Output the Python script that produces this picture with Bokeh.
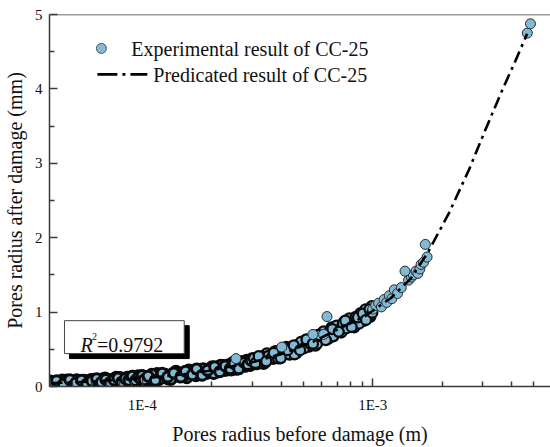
import math

from bokeh.embed import file_html
from bokeh.models import (BoxAnnotation, ColumnDataSource, CustomJSTickFormatter,
                          FixedTicker, Label, Span)
from bokeh.plotting import figure
from bokeh.resources import INLINE

# ---------------------------------------------------------------------------
# Measured pore radii: before damage (m) against after damage (mm), CC-25
# ---------------------------------------------------------------------------
fine_before = [4.0e-5, 4.1e-5, 4.2e-5, 4.3e-5, 4.5e-5, 4.6e-5, 4.8e-5, 4.9e-5, 5.0e-5, 5.2e-5,
               5.3e-5, 5.5e-5, 5.6e-5, 5.8e-5, 5.9e-5, 6.1e-5, 6.2e-5, 6.4e-5, 6.6e-5, 6.7e-5,
               6.9e-5, 7.1e-5, 7.3e-5, 7.4e-5, 7.6e-5, 7.8e-5, 8.0e-5, 8.2e-5, 8.4e-5, 8.6e-5,
               8.8e-5, 9.0e-5, 9.2e-5, 9.4e-5, 9.6e-5, 9.8e-5,
               4.4e-5, 4.7e-5, 5.1e-5, 5.4e-5, 5.7e-5, 6.0e-5, 6.3e-5, 6.5e-5, 6.8e-5, 7.0e-5,
               7.2e-5, 7.5e-5, 7.7e-5, 7.9e-5, 8.1e-5, 8.3e-5, 8.5e-5, 8.7e-5, 8.9e-5, 9.1e-5,
               9.3e-5, 9.5e-5, 9.7e-5, 9.9e-5,
               4.05e-5, 4.25e-5, 4.55e-5, 4.85e-5, 5.15e-5, 5.45e-5, 5.75e-5, 6.05e-5, 6.35e-5, 6.65e-5,
               6.95e-5, 7.25e-5, 7.55e-5, 7.85e-5, 8.15e-5, 8.45e-5, 8.75e-5, 9.05e-5, 9.35e-5, 9.65e-5,
               9.85e-5]
fine_after = [0.073, 0.030, 0.055, 0.026, 0.089, 0.050, 0.027, 0.073, 0.044, 0.091,
              0.027, 0.074, 0.085, 0.043, 0.069, 0.031, 0.097, 0.059, 0.091, 0.047,
              0.115, 0.072, 0.089, 0.050, 0.107, 0.069, 0.121, 0.089, 0.071, 0.123,
              0.065, 0.107, 0.119, 0.077, 0.144, 0.096,
              0.033, 0.086, 0.025, 0.078, 0.057, 0.095, 0.043, 0.080, 0.108, 0.056,
              0.093, 0.051, 0.123, 0.075, 0.112, 0.055, 0.097, 0.124, 0.076, 0.138,
              0.085, 0.123, 0.075, 0.142,
              0.049, 0.076, 0.029, 0.092, 0.046, 0.084, 0.032, 0.075, 0.104, 0.057,
              0.095, 0.053, 0.087, 0.115, 0.058, 0.106, 0.085, 0.138, 0.081, 0.129,
              0.101]

mid_before = [1.00e-4, 1.04e-4, 1.08e-4, 1.12e-4, 1.16e-4, 1.20e-4, 1.25e-4, 1.30e-4, 1.35e-4, 1.40e-4,
              1.45e-4, 1.50e-4, 1.56e-4, 1.62e-4, 1.68e-4, 1.74e-4, 1.80e-4, 1.87e-4, 1.94e-4, 2.01e-4,
              2.08e-4, 2.15e-4, 2.23e-4, 2.31e-4, 2.39e-4, 2.47e-4, 2.56e-4, 2.65e-4, 2.74e-4, 2.84e-4,
              2.94e-4,
              1.02e-4, 1.10e-4, 1.18e-4, 1.27e-4, 1.33e-4, 1.42e-4, 1.52e-4, 1.59e-4, 1.71e-4, 1.77e-4,
              1.84e-4, 1.90e-4, 1.98e-4, 2.04e-4, 2.12e-4, 2.19e-4, 2.27e-4, 2.35e-4, 2.43e-4, 2.52e-4,
              2.60e-4, 2.70e-4, 2.79e-4, 2.89e-4, 2.99e-4,
              1.06e-4, 1.14e-4, 1.22e-4, 1.29e-4, 1.37e-4, 1.47e-4, 1.54e-4, 1.65e-4, 1.72e-4, 1.82e-4,
              1.92e-4, 2.06e-4, 2.17e-4, 2.29e-4, 2.41e-4, 2.50e-4, 2.62e-4, 2.77e-4, 2.87e-4, 2.97e-4]
mid_after = [0.148, 0.082, 0.132, 0.076, 0.175, 0.120, 0.165, 0.100, 0.166, 0.206,
             0.132, 0.172, 0.118, 0.210, 0.166, 0.233, 0.159, 0.227, 0.190, 0.267,
             0.185, 0.247, 0.281, 0.220, 0.263, 0.322, 0.231, 0.306, 0.286, 0.352,
             0.283,
             0.090, 0.164, 0.092, 0.157, 0.094, 0.183, 0.149, 0.222, 0.145, 0.201,
             0.239, 0.175, 0.239, 0.175, 0.244, 0.287, 0.220, 0.289, 0.222, 0.292,
             0.271, 0.337, 0.271, 0.322, 0.373,
             0.139, 0.083, 0.177, 0.129, 0.183, 0.129, 0.206, 0.158, 0.236, 0.152,
             0.217, 0.267, 0.199, 0.277, 0.240, 0.310, 0.238, 0.324, 0.295, 0.351]

coarse_before = [3.05e-4, 3.15e-4, 3.25e-4, 3.36e-4, 3.47e-4, 3.58e-4, 3.70e-4, 3.82e-4, 3.95e-4, 4.08e-4,
                 4.22e-4, 4.36e-4, 4.50e-4, 4.65e-4, 4.80e-4, 4.96e-4, 5.12e-4, 5.29e-4, 5.46e-4, 5.64e-4,
                 5.83e-4, 6.02e-4, 6.22e-4, 6.42e-4, 6.63e-4, 6.85e-4, 7.07e-4, 7.30e-4, 7.54e-4, 7.79e-4,
                 8.04e-4, 8.30e-4, 8.57e-4, 8.85e-4, 9.14e-4, 9.44e-4, 9.75e-4,
                 3.10e-4, 3.30e-4, 3.41e-4, 3.53e-4, 3.64e-4, 3.76e-4, 3.88e-4, 4.02e-4, 4.15e-4, 4.29e-4,
                 4.43e-4, 4.58e-4, 4.72e-4, 4.88e-4, 5.04e-4, 5.20e-4, 5.37e-4, 5.55e-4, 5.73e-4, 5.92e-4,
                 6.12e-4, 6.32e-4, 6.52e-4, 6.74e-4, 6.96e-4, 7.18e-4, 7.42e-4, 7.66e-4, 7.91e-4, 8.17e-4,
                 8.43e-4, 8.71e-4, 9.00e-4, 9.29e-4, 9.60e-4, 9.90e-4,
                 3.20e-4, 3.45e-4, 3.72e-4, 3.99e-4, 4.26e-4, 4.54e-4, 4.84e-4, 5.16e-4, 5.50e-4, 5.86e-4,
                 6.26e-4, 6.68e-4, 7.12e-4, 7.60e-4, 8.10e-4, 8.62e-4, 9.05e-4, 9.35e-4, 9.68e-4, 9.95e-4]
coarse_after = [0.380, 0.301, 0.372, 0.304, 0.446, 0.388, 0.371, 0.474, 0.379, 0.473,
                0.533, 0.428, 0.505, 0.446, 0.573, 0.521, 0.628, 0.537, 0.626, 0.550,
                0.696, 0.646, 0.717, 0.643, 0.794, 0.711, 0.783, 0.726, 0.875, 0.808,
                0.896, 0.795, 0.920, 0.985, 0.883, 0.985, 0.935,
                0.316, 0.403, 0.320, 0.412, 0.384, 0.472, 0.380, 0.457, 0.505, 0.436,
                0.521, 0.433, 0.524, 0.601, 0.515, 0.612, 0.571, 0.665, 0.575, 0.676,
                0.742, 0.668, 0.748, 0.675, 0.817, 0.764, 0.848, 0.780, 0.917, 0.826,
                0.935, 0.845, 0.946, 1.036, 0.940, 1.080,
                0.407, 0.339, 0.453, 0.382, 0.488, 0.554, 0.487, 0.633, 0.575, 0.690,
                0.623, 0.772, 0.735, 0.885, 0.800, 0.929, 0.980, 0.895, 1.037, 0.992]

large_before = [1.00e-3, 1.03e-3, 1.06e-3, 1.09e-3, 1.12e-3, 1.15e-3, 1.18e-3, 1.21e-3, 1.24e-3, 1.28e-3,
                1.33e-3, 1.43e-3, 1.47e-3, 1.50e-3, 1.54e-3, 1.57e-3, 1.60e-3, 1.62e-3, 1.66e-3, 1.72e-3]
large_after = [1.04, 1.09, 1.12, 1.07, 1.17, 1.13, 1.22, 1.18, 1.30, 1.25,
               1.33, 1.43, 1.47, 1.50, 1.55, 1.52, 1.58, 1.64, 1.67, 1.74]

# isolated points away from the main band
isolated_before = [2.55e-4, 4.03e-4, 5.50e-4, 6.12e-4, 6.33e-4, 1.38e-3, 1.69e-3, 4.68e-3, 4.83e-3]
isolated_after = [0.375, 0.530, 0.700, 0.700, 0.940, 1.550, 1.910, 4.750, 4.875]

# predicted curve for CC-25
pred_before = [4.0e-5, 6.0e-5, 1.0e-4, 1.5e-4, 2.0e-4, 3.0e-4, 4.0e-4, 5.5e-4, 7.5e-4, 9.2e-4,
               1.2e-3, 1.46e-3, 1.725e-3, 2.14e-3, 2.61e-3, 3.08e-3, 3.64e-3, 4.16e-3, 4.67e-3]
pred_after = [0.045, 0.066, 0.108, 0.162, 0.216, 0.325, 0.435, 0.600, 0.810, 0.940,
              1.190, 1.450, 1.790, 2.330, 2.910, 3.450, 3.980, 4.380, 4.740]

r_squared = 0.9792
x_major_ticks = [1e-4, 1e-3]
x_minor_ticks = [4e-5, 5e-5, 6e-5, 7e-5, 8e-5, 9e-5,
                 2e-4, 3e-4, 4e-4, 5e-4, 6e-4, 7e-4, 8e-4, 9e-4,
                 2e-3, 3e-3, 4e-3, 5e-3]
y_major_ticks = [0, 1, 2, 3, 4, 5]
y_minor_ticks = [0.5, 1.5, 2.5, 3.5, 4.5]

exp_label = "Experimental result of CC-25"
pred_label = "Predicated result of CC-25"

# ---------------------------------------------------------------------------
# Styling and geometry
# ---------------------------------------------------------------------------
SERIF = "Liberation Serif"
INK = "#111111"
AXIS_GREY = "#3a3a3a"
POINT_FILL = "#80bad6"
POINT_EDGE = "#0a0a0a"

X_START, X_END = 3.96e-5, 5.9e-3
Y_START, Y_END = 0.0, 5.0

W, H = 550, 447
F_LEFT, F_RIGHT, F_TOP, F_BOTTOM = 48, 550, 14, 387


def at(px, py):
    """Data coordinates for a pixel position inside the plot frame."""
    lx0, lx1 = math.log10(X_START), math.log10(X_END)
    x = 10 ** (lx0 + (px - F_LEFT) / (F_RIGHT - F_LEFT) * (lx1 - lx0))
    y = Y_START + (F_BOTTOM - py) / (F_BOTTOM - F_TOP) * (Y_END - Y_START)
    return x, y


p = figure(width=W, height=H, x_axis_type="log",
           x_range=(X_START, X_END), y_range=(Y_START, Y_END),
           output_backend="svg", toolbar_location=None,
           min_border_left=F_LEFT, min_border_right=W - F_RIGHT,
           min_border_top=F_TOP, min_border_bottom=H - F_BOTTOM,
           background_fill_color="white", border_fill_color="white",
           outline_line_color=None)
p.grid.visible = False

# axes
p.xaxis.ticker = FixedTicker(ticks=x_major_ticks, minor_ticks=x_minor_ticks)
p.xaxis.formatter = CustomJSTickFormatter(code="return '1E' + Math.round(Math.log10(tick));")
p.yaxis.ticker = FixedTicker(ticks=y_major_ticks, minor_ticks=y_minor_ticks)
p.xaxis.axis_label = "Pores radius before damage (m)"
p.yaxis.axis_label = "Pores radius after damage (mm)"

for ax in (p.xaxis[0], p.yaxis[0]):
    ax.axis_line_color = AXIS_GREY
    ax.axis_line_width = 1.5
    ax.major_tick_line_color = AXIS_GREY
    ax.minor_tick_line_color = AXIS_GREY
    ax.major_tick_line_width = 1.5
    ax.minor_tick_line_width = 1.5
    ax.major_tick_in = 8
    ax.major_tick_out = 0
    ax.minor_tick_in = 5
    ax.minor_tick_out = 0
    ax.major_label_text_font = SERIF
    ax.major_label_text_font_size = "15px"
    ax.major_label_text_color = INK
    ax.axis_label_text_font = SERIF
    ax.axis_label_text_font_size = "20px"
    ax.axis_label_text_font_style = "normal"
    ax.axis_label_text_color = INK

p.xaxis.major_label_standoff = 10
p.xaxis.axis_label_standoff = 7
p.yaxis.major_label_standoff = 7
p.yaxis.axis_label_standoff = 6

# top border of the frame
p.add_layout(Span(location=Y_END, dimension="width", line_color=AXIS_GREY, line_width=1.5))

# measured points: the crowded band first, the sparser points on top
crowded = ColumnDataSource(dict(before=fine_before + mid_before,
                                after=fine_after + mid_after))
middle = ColumnDataSource(dict(before=coarse_before, after=coarse_after))
sparse = ColumnDataSource(dict(before=large_before + isolated_before,
                               after=large_after + isolated_after))
p.scatter("before", "after", source=crowded, marker="circle", size=10,
          fill_color=POINT_FILL, line_color=POINT_EDGE, line_width=3.0)
p.scatter("before", "after", source=middle, marker="circle", size=10,
          fill_color=POINT_FILL, line_color=POINT_EDGE, line_width=2.3)
p.scatter("before", "after", source=sparse, marker="circle", size=10,
          fill_color=POINT_FILL, line_color="#2a2a2a", line_width=1)

# predicted curve
pred = ColumnDataSource(dict(before=pred_before, after=pred_after))
DASH_DOT = "12 5 3 5"
p.line("before", "after", source=pred, line_color="black", line_width=2.6,
       line_dash=DASH_DOT)

# legend
mx, my = at(100, 48)
p.scatter([mx], [my], marker="circle", size=10, fill_color=POINT_FILL,
          line_color="#555555", line_width=1)
lx0, ly = at(96, 74)
lx1, _ = at(146, 74)
p.line([lx0, lx1], [ly, ly], line_color="black", line_width=2.6, line_dash="20 5 3 5")
tx, ty = at(130, 49)
p.add_layout(Label(x=tx, y=ty, text=exp_label, text_font=SERIF, text_font_size="20px",
                   text_color=INK, text_baseline="middle", text_align="left"))
tx, ty = at(152, 75)
p.add_layout(Label(x=tx, y=ty, text=pred_label, text_font=SERIF, text_font_size="20px",
                   text_color=INK, text_baseline="middle", text_align="left"))

# R^2 box with drop shadow
sl, st = at(68, 326)
sr, sb = at(188, 359)
p.add_layout(BoxAnnotation(left=sl, right=sr, top=st, bottom=sb,
                           fill_color="black", fill_alpha=1,
                           line_color="black", line_alpha=1))
bl, bt = at(63, 321)
br, bb = at(183, 354)
p.add_layout(BoxAnnotation(left=bl, right=br, top=bt, bottom=bb,
                           fill_color="white", fill_alpha=1, line_color="#444444",
                           line_alpha=1, line_width=1))
rx, ry = at(79, 345)
p.add_layout(Label(x=rx, y=ry, text="R", text_font=SERIF, text_font_size="20px",
                   text_font_style="italic", text_color=INK, text_baseline="alphabetic"))
sx, sy = at(90.5, 336.5)
p.add_layout(Label(x=sx, y=sy, text="2", text_font=SERIF, text_font_size="10px",
                   text_color=INK, text_baseline="alphabetic"))
vx, vy = at(95.5, 345)
p.add_layout(Label(x=vx, y=vy, text="=" + f"{r_squared:.4f}", text_font=SERIF,
                   text_font_size="20px", text_color=INK, text_baseline="alphabetic"))

open("out.html", "w").write(file_html(p, INLINE))
